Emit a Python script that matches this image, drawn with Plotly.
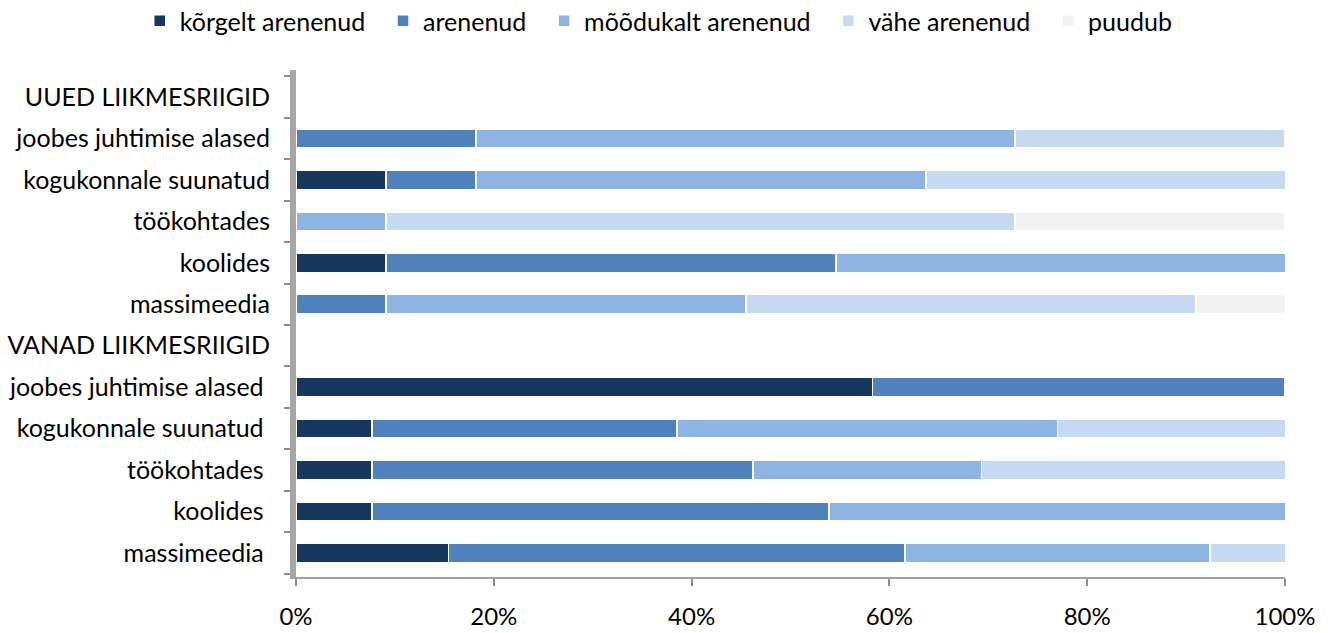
import plotly.graph_objects as go

# categories from bottom to top (trailing spaces keep duplicated names unique)
categories = [
    "massimeedia ", "koolides ", "töökohtades ", "kogukonnale suunatud ", "joobes juhtimise alased ",
    "VANAD LIIKMESRIIGID",
    "massimeedia", "koolides", "töökohtades", "kogukonnale suunatud", "joobes juhtimise alased",
    "UUED LIIKMESRIIGID",
]

series_names = ["kõrgelt arenenud", "arenenud", "mõõdukalt arenenud", "vähe arenenud", "puudub"]

korgelt = [15.4, 7.7, 7.7, 7.7, 58.3, 0, 0, 9.1, 0, 9.1, 0, 0]
arenenud = [46.2, 46.2, 38.5, 30.8, 41.7, 0, 9.1, 45.5, 0, 9.1, 18.2, 0]
moodukalt = [30.8, 46.2, 23.1, 38.5, 0, 0, 36.4, 45.5, 9.1, 45.5, 54.5, 0]
vahe = [7.7, 0, 30.8, 23.1, 0, 0, 45.5, 0, 63.6, 36.4, 27.3, 0]
puudub = [0, 0, 0, 0, 0, 0, 9.1, 0, 27.3, 0, 0, 0]

colors = ["#17375E", "#4F81BD", "#8EB4E3", "#C6D9F1", "#F2F2F2"]

x_ticks = [0, 20, 40, 60, 80, 100]
x_ticktext = ["0%", "20%", "40%", "60%", "80%", "100%"]

fig = go.Figure()
for name, vals, col in zip(series_names, [korgelt, arenenud, moodukalt, vahe, puudub], colors):
    fig.add_trace(go.Bar(
        y=categories, x=vals, name=name + "\u00a0\u00a0", orientation="h",
        marker=dict(color=col, line=dict(color="white", width=1.5)),
        width=0.46,
    ))

fig.update_layout(
    barmode="stack",
    width=1328, height=633,
    margin=dict(l=296, r=43, t=70, b=56, autoexpand=False),
    paper_bgcolor="white", plot_bgcolor="white",
    font=dict(family="Lato, Open Sans, sans-serif", size=25, color="black"),
    legend=dict(orientation="h", x=-0.158, xanchor="left", xref="paper", y=1.142, yref="paper",
                yanchor="top", font=dict(size=25), traceorder="normal",
                itemwidth=30, bgcolor="rgba(0,0,0,0)"),
    showlegend=True,
)
fig.update_xaxes(
    range=[0, 100], tickvals=x_ticks, ticktext=x_ticktext, automargin=False,
    showgrid=False, zeroline=False, showline=True, linecolor="#A0A0A0", linewidth=2,
    ticks="outside", ticklen=7, tickcolor="#8C8C8C", tickwidth=2,
    ticklabelstandoff=10, tickfont=dict(size=24),
)
fig.update_yaxes(
    type="category", categoryorder="array", categoryarray=categories,
    range=[-0.58, 11.65], automargin=False,
    showgrid=False, showline=True, linecolor="#A6A6A6", linewidth=6,
    ticks="outside", tickson="boundaries", ticklen=6, tickcolor="#8C8C8C", tickwidth=2,
    ticklabelstandoff=15, tickfont=dict(size=25),
)
fig.write_html("out.html")
